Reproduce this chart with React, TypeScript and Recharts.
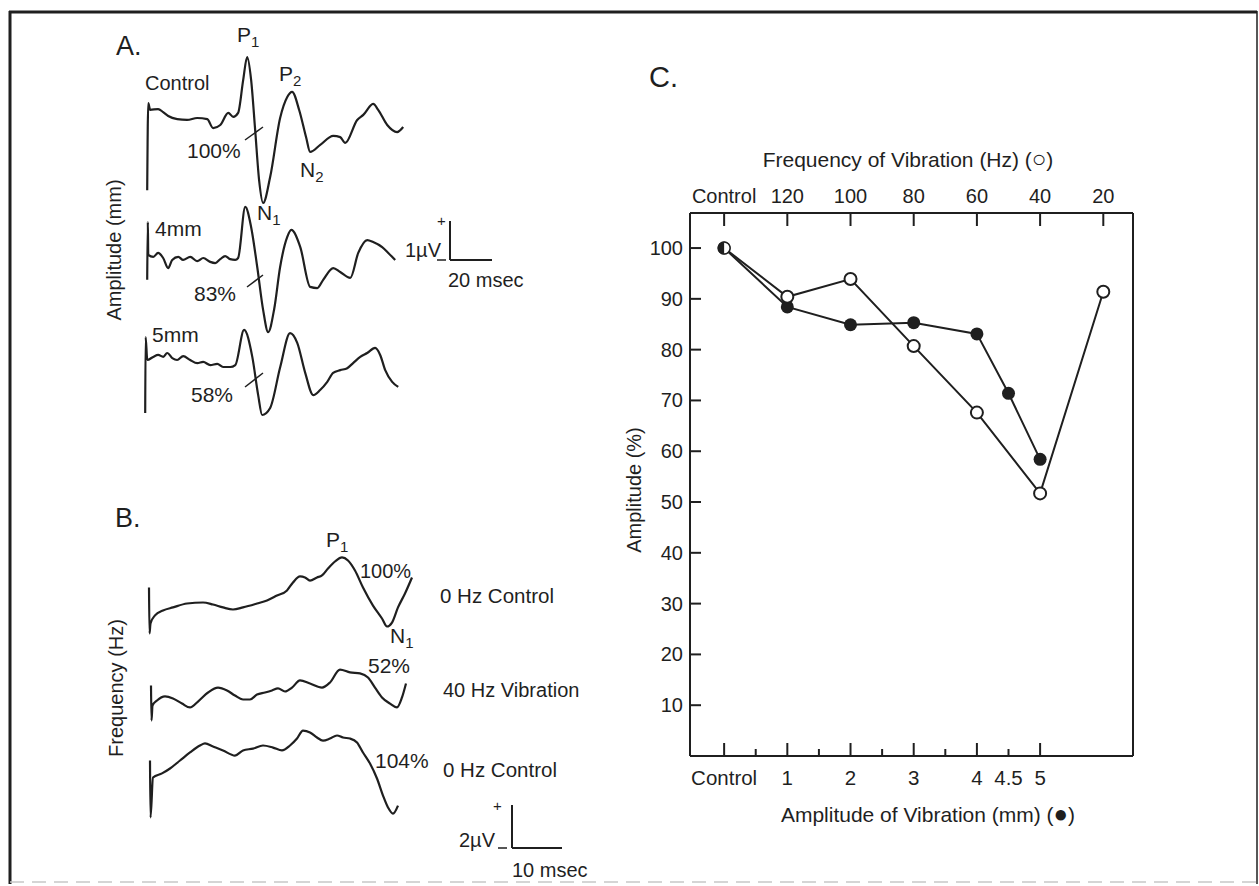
import { LineChart, Line, XAxis, YAxis } from 'recharts';

const INK = '#1f1f1f';
const FONT = '"Liberation Sans", Arial, sans-serif';

// A. evoked potentials at different vibration amplitudes: [time (msec), potential (µV)]
const ampControl: [number, number][] = [
  [0, -1.85], [0.5, 0.38], [1.4, 0.21], [5.2, 0.23], [7.6, 0.15], [10, 0.05], [14.3, -0.03],
  [19, -0.05], [23.8, 0], [28.6, -0.03], [31.4, -0.26], [34.8, -0.18], [38.6, 0.13], [41, 0.03],
  [43.3, 0.13], [45.7, 0.97], [47.6, 1.56], [49.5, 0.97], [51.4, -0.3], [53.3, -1.6], [55.2, -2.18],
  [58.6, -1.5], [63.3, 0.0], [66.7, 0.54], [69, 0.67], [72.4, 0.2], [75.7, -0.5], [77.6, -0.87],
  [82.4, -0.69], [88.6, -0.46], [91.9, -0.49], [94.3, -0.64], [100, -0.05], [102.9, 0.08],
  [107.6, 0.36], [110, 0.21], [114.3, -0.18], [119, -0.36], [121.9, -0.23],
];
const amp4mm: [number, number][] = [
  [0, -0.56], [0.3, 0.92], [0.5, 0.08], [2.9, 0.03], [5.2, 0.13], [7.6, 0], [10, -0.26], [11.9, -0.05],
  [14.8, 0.03], [17.1, -0.05], [20.5, 0.03], [23.8, -0.08], [26.7, 0], [30, -0.1], [32.4, -0.13],
  [34.8, -0.03], [37.1, 0.05], [39.5, -0.03], [41.9, -0.05], [43.3, 0], [46.7, 1.31], [49.5, 0.79],
  [52.4, -0.23], [55.2, -1.33], [57.6, -1.9], [60.5, -1.3], [63.3, -0.23], [66.7, 0.54], [68.6, 0.72],
  [72.9, 0.28], [77.6, -0.74], [81, -0.77], [83.8, -0.56], [88.6, -0.26], [91.9, -0.36], [96.7, -0.51],
  [100.5, 0.13], [104.8, 0.46], [107.6, 0.41], [111.9, 0.28], [114.8, 0.13], [118.1, -0.05],
];
const amp5mm: [number, number][] = [
  [0, -1.36], [0.2, 0.59], [1, 0], [3.8, 0.08], [6.2, 0.13], [8.6, 0.08], [10.5, 0.18], [12.9, 0.05],
  [15.2, 0], [18.1, 0.1], [21.4, 0], [24.8, -0.08], [27.6, -0.05], [31, -0.13], [34.3, -0.1],
  [37.1, -0.18], [40.5, -0.18], [42.9, -0.13], [47.1, 0.77], [51, 0.08], [53.8, -0.9], [55.7, -1.41],
  [59.5, -1.23], [64.3, -0.18], [69, 0.69], [72.4, 0.44], [76.2, -0.33], [80, -0.9], [83.3, -0.77],
  [86.7, -0.56], [89.5, -0.33], [92.9, -0.26], [96.2, -0.21], [99, -0.08], [102.4, 0.08],
  [105.7, 0.18], [109.5, 0.31], [111.9, 0.13], [114.3, -0.26], [117.6, -0.56], [120.5, -0.69],
];

// B. evoked potentials at different vibration frequencies: [time (msec), potential (µV)]
const freqControl: [number, number][] = [
  [0, 1.12], [0.1, -1.12], [0.3, -0.63], [1.2, -0.24], [2.8, 0], [4.8, 0.15], [7.6, 0.34], [10.8, 0.39],
  [12.8, 0.29], [14.8, 0.15], [16.8, 0.05], [18.8, 0.15], [21.6, 0.34], [23.6, 0.49], [25.6, 0.73],
  [27.6, 0.98], [28.8, 1.37], [30.2, 1.66], [31.2, 1.61], [32.2, 1.46], [33.6, 1.61], [34.6, 1.71],
  [35.8, 2.05], [37.2, 2.39], [38.6, 2.59], [39.8, 2.44], [41.2, 1.95], [42.8, 1.12], [44.8, 0.24],
  [46.6, -0.39], [47.6, -0.78], [48.6, -0.59], [49.8, 0.15], [51.2, 0.83], [52.6, 1.61],
];
const freq40Hz: [number, number][] = [
  [0, 0.73], [0.1, -0.98], [0.3, -0.24], [1.2, 0], [2.8, 0.2], [4.4, 0.1], [6.2, -0.15], [7.8, -0.34],
  [9.4, -0.05], [11.4, 0.39], [13.4, 0.63], [15.2, 0.49], [16.8, 0.24], [18.4, 0.05], [19.8, 0.05],
  [21.2, 0.29], [22.8, 0.39], [24.2, 0.49], [25.4, 0.59], [26.8, 0.44], [28.2, 0.63], [29.8, 0.98],
  [31.8, 0.83], [34.2, 0.63], [35.8, 0.88], [37.8, 1.51], [39.8, 1.37], [41.8, 1.32], [43.4, 1.12],
  [44.8, 0.63], [46.2, 0.15], [47.8, -0.15], [49.2, -0.34], [50.2, 0.15], [51, 0.83],
];
const freqControl2: [number, number][] = [
  [0, 0.83], [0.1, -1.95], [0.6, 0], [2.4, 0.2], [4, 0.44], [6, 0.83], [8, 1.22], [10, 1.56], [11, 1.66],
  [12.6, 1.51], [14.6, 1.32], [17, 1.07], [18.6, 1.32], [20.6, 1.41], [22.6, 1.56], [24.6, 1.46],
  [26.4, 1.32], [28, 1.56], [29.4, 1.9], [30.6, 2.29], [32, 2.2], [33.4, 1.95], [34.6, 1.8], [36, 1.9],
  [37.4, 2.05], [38.6, 1.95], [40, 1.9], [41.4, 1.71], [42.6, 1.22], [44, 0.68], [45.4, -0.05],
  [46.6, -0.88], [47.6, -1.46], [48.6, -1.76], [49.6, -1.37],
];

// C. amplitude (%) against vibration amplitude (●) and frequency (○)
const amplitudeSteps = [0, 1, 2, 3, 4, 4.5, 5];
const amplitudeValues = [100, 88.4, 84.9, 85.3, 83.1, 71.4, 58.4];
const frequencySteps = [0, 1, 2, 3, 4, 5, 6];
const frequencyValues = [100, 90.4, 93.9, 80.7, 67.6, 51.7, 91.4];
const frequencyLabels = ['Control', '120', '100', '80', '60', '40', '20'];
const amplitudeTicks = [0, 0.5, 1, 1.5, 2, 2.5, 3, 3.5, 4, 4.5, 5];
const amplitudeLabels = ['Control', '', '1', '', '2', '', '3', '', '4', '4.5', '5'];
const percentTicks = [10, 20, 30, 40, 50, 60, 70, 80, 90, 100];

const closedData = amplitudeSteps.map((x, i) => ({ x, y: amplitudeValues[i] }));
const openData = frequencySteps.map((x, i) => ({ x, y: frequencyValues[i] }));

interface TraceProps {
  points: [number, number][];
  x0: number;
  baseline: number;
  msPx: number;
  uvPx: number;
  tMin: number;
  tMax: number;
  vMin: number;
  vMax: number;
}

function Trace({ points, x0, baseline, msPx, uvPx, tMin, tMax, vMin, vMax }: TraceProps) {
  const data = points.map(([t, v]) => ({ t, v }));
  const width = (tMax - tMin) * msPx;
  const height = (vMax - vMin) * uvPx;
  return (
    <div style={{ position: 'absolute', left: x0 + tMin * msPx, top: baseline - vMax * uvPx }}>
      <LineChart width={width} height={height} data={data} margin={{ top: 0, right: 0, bottom: 0, left: 0 }}>
        <XAxis type="number" dataKey="t" domain={[tMin, tMax]} allowDataOverflow hide />
        <YAxis type="number" domain={[vMin, vMax]} allowDataOverflow hide />
        <Line
          type="monotone"
          dataKey="v"
          stroke={INK}
          strokeWidth={2.2}
          dot={false}
          isAnimationActive={false}
        />
      </LineChart>
    </div>
  );
}

const A = { msPx: 2.1, uvPx: 39, tMin: -2, tMax: 125, vMin: -2.5, vMax: 2 };
const B = { msPx: 5, uvPx: 20.5, tMin: -1, tMax: 54, vMin: -2.5, vMax: 3 };

const BottomTick = (props: any) => {
  const { x, y, payload } = props;
  const i = amplitudeTicks.indexOf(payload.value);
  const major = Number.isInteger(payload.value);
  const label = amplitudeLabels[i];
  return (
    <g>
      <line x1={x} y1={y} x2={x} y2={y - (major ? 13 : 7)} stroke={INK} strokeWidth={2} />
      {label ? (
        <text x={x} y={y + 29} textAnchor="middle" fontSize={20.5} fill={INK} fontFamily={FONT}>
          {label}
        </text>
      ) : null}
    </g>
  );
};

const TopTick = (props: any) => {
  const { x, y, payload } = props;
  const label = frequencyLabels[frequencySteps.indexOf(payload.value)];
  return (
    <g>
      <line x1={x} y1={y} x2={x} y2={y + 13} stroke={INK} strokeWidth={2} />
      <text x={x} y={y - 10} textAnchor="middle" fontSize={20} fill={INK} fontFamily={FONT}>
        {label}
      </text>
    </g>
  );
};

const LeftTick = (props: any) => {
  const { x, y, payload } = props;
  return (
    <g>
      <line x1={x} y1={y} x2={x + 11} y2={y} stroke={INK} strokeWidth={2} />
      <text x={x - 7} y={y + 7} textAnchor="end" fontSize={20} fill={INK} fontFamily={FONT}>
        {payload.value}
      </text>
    </g>
  );
};

const openDot = (props: any) => {
  const { cx, cy, index } = props;
  if (index === 0) {
    return (
      <g key={`o-${index}`}>
        <circle cx={cx} cy={cy} r={6} fill="#fff" stroke={INK} strokeWidth={1.5} />
        <path d={`M${cx},${cy - 6} A6,6 0 0,0 ${cx},${cy + 6} Z`} fill={INK} />
      </g>
    );
  }
  return <circle key={`o-${index}`} cx={cx} cy={cy} r={6} fill="#fff" stroke={INK} strokeWidth={2} />;
};

const closedDot = (props: any) => {
  const { cx, cy, index } = props;
  return <circle key={`c-${index}`} cx={cx} cy={cy} r={6.5} fill={INK} />;
};

function Sub({ x, y, main, sub }: { x: number; y: number; main: string; sub: string }) {
  return (
    <text x={x} y={y} fontSize={21} fill={INK} fontFamily={FONT}>
      {main}
      <tspan fontSize={15} dy={5}>{sub}</tspan>
    </text>
  );
}

function T({ x, y, size = 19, anchor = 'start', rotate, children }: any) {
  return (
    <text
      x={x}
      y={y}
      fontSize={size}
      fill={INK}
      fontFamily={FONT}
      textAnchor={anchor}
      transform={rotate ? `rotate(${rotate} ${x} ${y})` : undefined}
    >
      {children}
    </text>
  );
}

export default function App() {
  return (
    <div style={{ position: 'absolute', left: 0, top: 0, width: 1259, height: 886, background: '#fff' }}>
      {/* Panel A */}
      <Trace points={ampControl} x0={147} baseline={118} {...A} />
      <Trace points={amp4mm} x0={147} baseline={258} {...A} />
      <Trace points={amp5mm} x0={145} baseline={360} {...A} />

      {/* Panel B */}
      <Trace points={freqControl} x0={149} baseline={610} {...B} />
      <Trace points={freq40Hz} x0={151} baseline={700} {...B} />
      <Trace points={freqControl2} x0={150} baseline={777} {...B} />

      {/* Panel C */}
      <div style={{ position: 'absolute', left: 600, top: 40 }}>
        <LineChart width={620} height={800} margin={{ top: 113, right: 86, bottom: 24, left: 30 }}>
          <XAxis
            xAxisId="bottom"
            type="number"
            dataKey="x"
            orientation="bottom"
            domain={[-0.54, 6.47]}
            allowDataOverflow
            ticks={amplitudeTicks}
            interval={0}
            tick={BottomTick}
            tickSize={0}
            tickMargin={0}
            tickLine={false}
            height={60}
            axisLine={{ stroke: INK, strokeWidth: 2 }}
          />
          <XAxis
            xAxisId="top"
            type="number"
            dataKey="x"
            orientation="top"
            domain={[-0.54, 6.47]}
            allowDataOverflow
            ticks={frequencySteps}
            interval={0}
            tick={TopTick}
            tickSize={0}
            tickMargin={0}
            tickLine={false}
            height={60}
            axisLine={{ stroke: INK, strokeWidth: 2 }}
          />
          <YAxis
            yAxisId="left"
            type="number"
            domain={[0, 106.9]}
            allowDataOverflow
            ticks={percentTicks}
            interval={0}
            tick={LeftTick}
            tickSize={0}
            tickMargin={0}
            tickLine={false}
            width={60}
            axisLine={{ stroke: INK, strokeWidth: 2 }}
          />
          <YAxis
            yAxisId="right"
            orientation="right"
            type="number"
            domain={[0, 106.9]}
            tick={false}
            tickLine={false}
            width={1}
            axisLine={{ stroke: INK, strokeWidth: 2 }}
          />
          <Line
            xAxisId="bottom"
            yAxisId="left"
            data={closedData}
            dataKey="y"
            type="linear"
            stroke={INK}
            strokeWidth={2}
            dot={closedDot}
            isAnimationActive={false}
          />
          <Line
            xAxisId="bottom"
            yAxisId="left"
            data={openData}
            dataKey="y"
            type="linear"
            stroke={INK}
            strokeWidth={2}
            dot={openDot}
            isAnimationActive={false}
          />
        </LineChart>
      </div>

      {/* frame, labels and scale bars */}
      <svg
        width={1259}
        height={886}
        style={{ position: 'absolute', left: 0, top: 0, pointerEvents: 'none' }}
      >
        <line x1={9} y1={12} x2={1257} y2={12} stroke={INK} strokeWidth={3} />
        <line x1={10} y1={11} x2={10} y2={884} stroke={INK} strokeWidth={3} />
        <line x1={1257} y1={11} x2={1257} y2={884} stroke={INK} strokeWidth={1.5} />
        <line x1={10} y1={882} x2={1257} y2={882} stroke="#c8c8c8" strokeWidth={1.5} strokeDasharray="14 8" />

        {/* A */}
        <T x={116} y={55} size={27}>A.</T>
        <Sub x={237} y={42} main="P" sub="1" />
        <T x={145} y={90} size={20}>Control</T>
        <Sub x={279} y={81} main="P" sub="2" />
        <T x={187} y={158} size={21}>100%</T>
        <line x1={245} y1={140} x2={263} y2={127} stroke={INK} strokeWidth={1.5} />
        <Sub x={300} y={177} main="N" sub="2" />
        <Sub x={257} y={220} main="N" sub="1" />
        <T x={155} y={236} size={21}>4mm</T>
        <T x={194} y={301} size={21}>83%</T>
        <line x1={247} y1={287} x2={263} y2={275} stroke={INK} strokeWidth={1.5} />
        <T x={152} y={342} size={21}>5mm</T>
        <T x={191} y={402} size={21}>58%</T>
        <line x1={245} y1={387} x2={263} y2={373} stroke={INK} strokeWidth={1.5} />
        <T x={121} y={250} size={20} anchor="middle" rotate={-90}>Amplitude (mm)</T>
        <T x={405} y={257} size={20}>1µV</T>
        <T x={437} y={226} size={15}>+</T>
        <line x1={437} y1={260} x2={446} y2={260} stroke={INK} strokeWidth={1.5} />
        <line x1={450} y1={221} x2={450} y2={260} stroke={INK} strokeWidth={2} />
        <line x1={450} y1={260} x2={492} y2={260} stroke={INK} strokeWidth={2} />
        <T x={448} y={287} size={20}>20 msec</T>

        {/* B */}
        <T x={115} y={527} size={27}>B.</T>
        <Sub x={326} y={547} main="P" sub="1" />
        <T x={360} y={578} size={20}>100%</T>
        <T x={440} y={603} size={20.5}>0 Hz Control</T>
        <Sub x={390} y={643} main="N" sub="1" />
        <T x={368} y={673} size={21}>52%</T>
        <T x={443} y={697} size={20}>40 Hz Vibration</T>
        <T x={375} y={768} size={21}>104%</T>
        <T x={443} y={777} size={20.5}>0 Hz Control</T>
        <T x={123} y={688} size={20} anchor="middle" rotate={-90}>Frequency (Hz)</T>
        <T x={459} y={847} size={20}>2µV</T>
        <T x={493} y={811} size={15}>+</T>
        <line x1={498} y1={848} x2={507} y2={848} stroke={INK} strokeWidth={1.5} />
        <line x1={512} y1={805} x2={512} y2={848} stroke={INK} strokeWidth={2} />
        <line x1={512} y1={848} x2={562} y2={848} stroke={INK} strokeWidth={2} />
        <T x={512} y={877} size={20}>10 msec</T>

        {/* C */}
        <T x={649} y={87} size={29}>C.</T>
        <text x={908} y={167} fontSize={21} fill={INK} fontFamily={FONT} textAnchor="middle">
          Frequency of Vibration (Hz) (<tspan fontSize={24}>○</tspan>)
        </text>
        <text x={928} y={822} fontSize={21} fill={INK} fontFamily={FONT} textAnchor="middle">
          Amplitude of Vibration (mm) (<tspan fontSize={24}>●</tspan>)
        </text>
        <T x={641} y={490} size={20} anchor="middle" rotate={-90}>Amplitude (%)</T>
      </svg>
    </div>
  );
}
